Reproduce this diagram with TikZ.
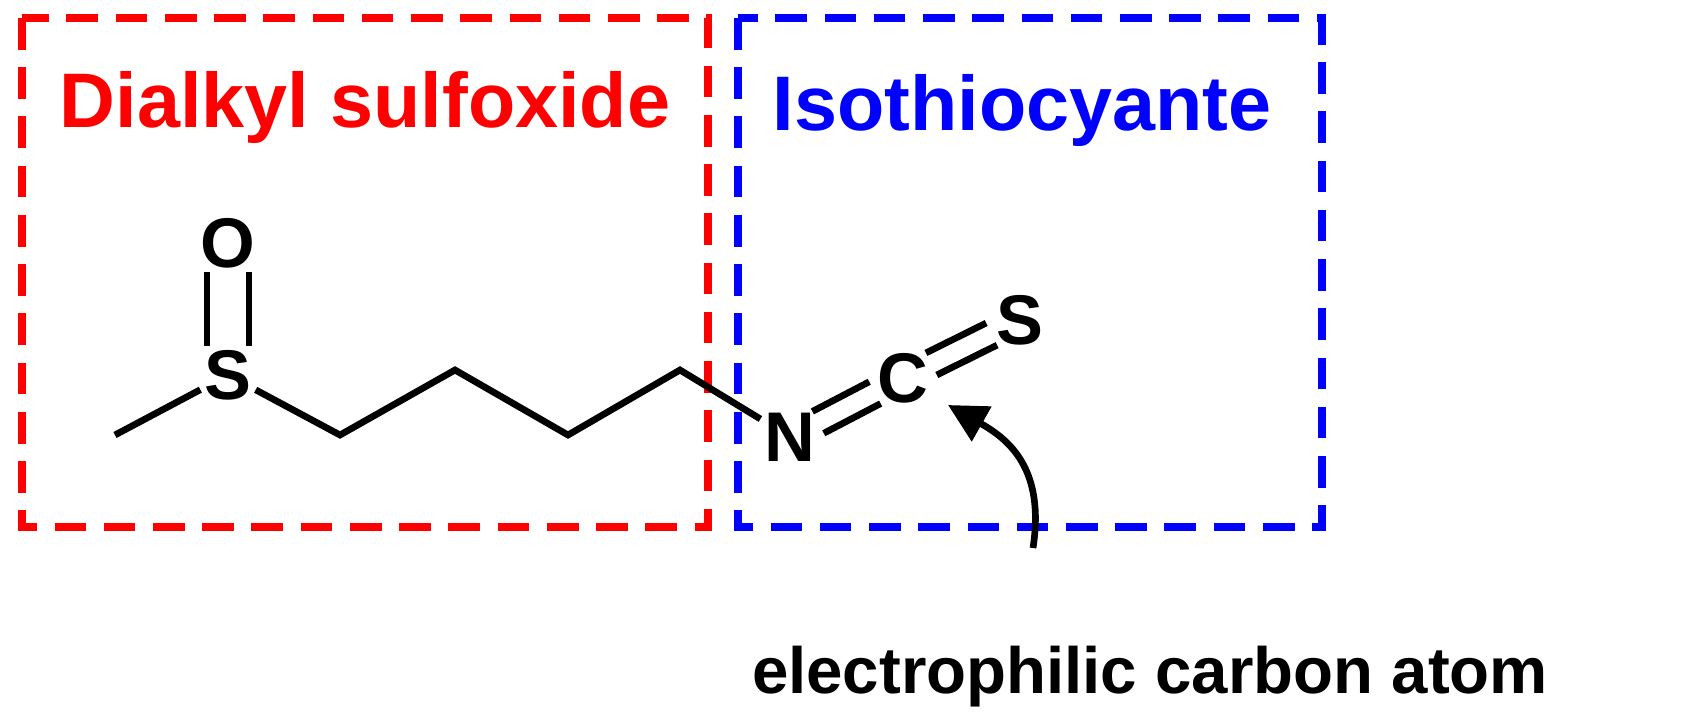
\documentclass[tikz,border=0pt]{standalone}
\usepackage{fontspec}
\setmainfont{Liberation Sans}
\usetikzlibrary{arrows.meta,calc}
\begin{document}
\begin{tikzpicture}[x=0.01cm,y=-0.01cm,
  box/.style={line width=2.3pt,dash pattern=on 9pt off 5pt},
  atom/.style={font=\fontsize{20}{22}\selectfont\bfseries,inner sep=1pt},
  bond/.style={line width=1.9pt},
  dbl/.style={line width=1.9pt,shorten <=9pt,shorten >=9pt},
  ttl/.style={font=\fontsize{22}{26}\selectfont\bfseries}]
\useasboundingbox (0,0) rectangle (1686,715);
\draw[box,red] (22,18) rectangle (708,527);
\draw[box,blue] (738,18) rectangle (1322,527);
\node[ttl,red] (t1) at (365,107) {Dialkyl sulfoxide};
\node[ttl,blue] (t2) at (1022,110) {Isothiocyante};
\coordinate (me) at (115,435);
\node[atom] (s1) at (228,375) {S};
\node[atom] (o) at (228,243) {O};
\coordinate (c1) at (340,435);
\coordinate (c2) at (455,370);
\coordinate (c3) at (568,435);
\coordinate (c4) at (680,370);
\node[atom] (n) at (790,437) {N};
\node[atom] (c) at (903,378) {C};
\node[atom] (s2) at (1020,320) {S};
\draw[bond] (me) -- (s1) -- (c1) -- (c2) -- (c3) -- (c4) -- (n);
\draw[bond] ([xshift=-6]s1.north) -- ([xshift=-6]o.south);
\draw[bond] ([xshift=6]s1.north) -- ([xshift=6]o.south);
\draw[dbl] ($(n)!3.5pt!90:(c)$) -- ($(c)!3.5pt!-90:(n)$);
\draw[dbl] ($(n)!3.5pt!-90:(c)$) -- ($(c)!3.5pt!90:(n)$);
\draw[dbl] ($(c)!3.5pt!90:(s2)$) -- ($(s2)!3.5pt!-90:(c)$);
\draw[dbl] ($(c)!3.5pt!-90:(s2)$) -- ($(s2)!3.5pt!90:(c)$);
\node[font=\fontsize{18.6}{21}\selectfont\bfseries] (lab) at (1150,677) {electrophilic carbon atom};
\coordinate (a0) at (1033,548);
\draw[bond,-{Triangle[length=11pt,width=11pt]}] (a0) .. controls (1045,470) and (1010,440) .. (948,405);
\end{tikzpicture}
\end{document}
